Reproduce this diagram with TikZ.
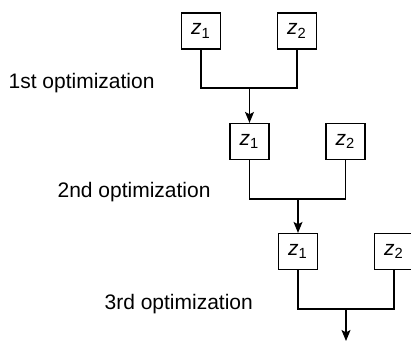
\documentclass[tikz,border=0pt]{standalone}
\usepackage{fontspec}
\setmainfont{Liberation Sans}
\usetikzlibrary{arrows.meta}
\begin{document}
\begin{tikzpicture}[x=0.5pt, y=-0.5pt, line width=0.6pt,
    >={Stealth[length=5.5pt, width=4.5pt, inset=1.2pt]},
    zbox/.style={draw, rectangle, minimum width=19.5pt, minimum height=18pt, inner sep=0pt, font=\fontsize{10.5}{12}\selectfont},
    optlabel/.style={anchor=base west, inner sep=0pt, font=\fontsize{10.5}{12}\selectfont}]
	\useasboundingbox (0,0) rectangle (411,341);

	% 1st optimization
	\node[zbox] (za1) at (201,31) {\textit{z}\textsubscript{1}};
	\node[zbox] (za2) at (297,31) {\textit{z}\textsubscript{2}};
	\coordinate (ja) at (249.5,88);
	\node[optlabel] (opt1) at (8,89) {1st optimization};

	% 2nd optimization
	\node[zbox] (zb1) at (249.5,141.5) {\textit{z}\textsubscript{1}};
	\node[zbox] (zb2) at (345.5,141.5) {\textit{z}\textsubscript{2}};
	\coordinate (jb) at (298,199);
	\node[optlabel] (opt2) at (57,198) {2nd optimization};

	% 3rd optimization
	\node[zbox] (zc1) at (298,251.5) {\textit{z}\textsubscript{1}};
	\node[zbox] (zc2) at (394,251.5) {\textit{z}\textsubscript{2}};
	\coordinate (jc) at (346,309);
	\coordinate (out) at (346,341);
	\node[optlabel] (opt3) at (104,309) {3rd optimization};

	% Connections
	\draw (za1) |- (ja) -| (za2);
	\draw[->] (ja) -- (zb1);
	\draw (zb1) |- (jb) -| (zb2);
	\draw[->] (jb) -- (zc1);
	\draw (zc1) |- (jc) -| (zc2);
	\draw[->] (jc) -- (out);
\end{tikzpicture}
\end{document}
